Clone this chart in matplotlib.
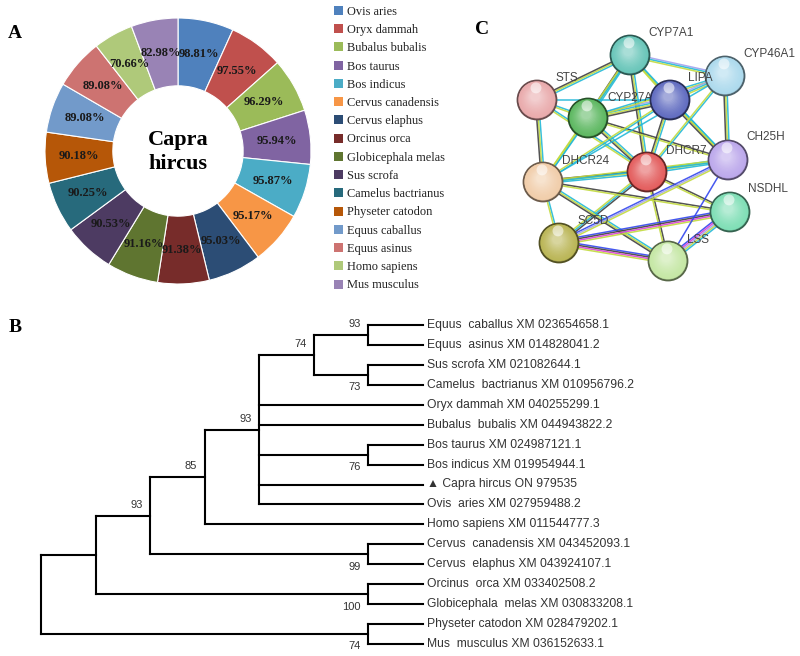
import matplotlib
matplotlib.use("Agg")
import matplotlib.pyplot as plt
from matplotlib.patches import Circle, Patch
import numpy as np

# ---- panel A: identity donut ----
species = ["Ovis aries", "Oryx dammah", "Bubalus bubalis", "Bos taurus", "Bos indicus",
           "Cervus canadensis", "Cervus elaphus", "Orcinus orca", "Globicephala melas",
           "Sus scrofa", "Camelus bactrianus", "Physeter catodon", "Equus caballus",
           "Equus asinus", "Homo sapiens", "Mus musculus"]
identity = [98.81, 97.55, 96.29, 95.94, 95.87, 95.17, 95.03, 91.38, 91.16,
            90.53, 90.25, 90.18, 89.08, 89.08, 70.66, 82.98]
pie_colors = ["#4F81BD", "#C0504D", "#9BBB59", "#8064A2", "#4BACC6", "#F79646",
              "#2C4D75", "#772C2A", "#5F7530", "#4D3B62", "#276A7C", "#B65708",
              "#729ACA", "#CD7371", "#AFC97A", "#9983B5"]

# ---- panel B: tree (bootstrap, children) ----
tree = (None, [
    (None, [
        (93, [
            (85, [
                (93, [
                    (74, [
                        (93, ["Equus  caballus XM 023654658.1", "Equus  asinus XM 014828041.2"]),
                        (73, ["Sus scrofa XM 021082644.1", "Camelus  bactrianus XM 010956796.2"]),
                    ]),
                    "Oryx dammah XM 040255299.1",
                    "Bubalus  bubalis XM 044943822.2",
                    (76, ["Bos taurus XM 024987121.1", "Bos indicus XM 019954944.1"]),
                    "\u25B2 Capra hircus ON 979535",
                    "Ovis  aries XM 027959488.2",
                ]),
                "Homo sapiens XM 011544777.3",
            ]),
            (99, ["Cervus  canadensis XM 043452093.1", "Cervus  elaphus XM 043924107.1"]),
        ]),
        (100, ["Orcinus  orca XM 033402508.2", "Globicephala  melas XM 030833208.1"]),
    ]),
    (74, ["Physeter catodon XM 028479202.1", "Mus  musculus XM 036152633.1"]),
])

# ---- panel C: STRING network ----
genes = ["CYP7A1", "CYP46A1", "STS", "CYP27A1", "LIPA", "DHCR7", "CH25H",
         "DHCR24", "NSDHL", "SC5D", "LSS"]
gene_colors = ["#62C3B6", "#A9D8EC", "#E8A6A8", "#56B55A", "#5A66BE", "#E25656",
               "#B9A4EA", "#F0CBA6", "#79DDB2", "#B7B24E", "#C2E6A0"]
edges = [
    ("CYP7A1", "STS", "cyk"), ("CYP7A1", "CYP27A1", "cyk"), ("CYP7A1", "LIPA", "cy"),
    ("CYP7A1", "CYP46A1", "hcy"), ("CYP7A1", "DHCR7", "cyk"), ("CYP7A1", "DHCR24", "cy"),
    ("CYP7A1", "CH25H", "cy"), ("STS", "CYP27A1", "cy"), ("STS", "LIPA", "c"),
    ("STS", "DHCR24", "cyk"), ("STS", "DHCR7", "cy"), ("CYP27A1", "LIPA", "hcyk"),
    ("CYP27A1", "CYP46A1", "cy"), ("CYP27A1", "DHCR7", "cyk"), ("CYP27A1", "DHCR24", "cy"),
    ("CYP27A1", "CH25H", "ky"), ("LIPA", "CYP46A1", "hcy"), ("LIPA", "DHCR7", "cyk"),
    ("LIPA", "CH25H", "cyk"), ("LIPA", "DHCR24", "cy"), ("CYP46A1", "CH25H", "cyk"),
    ("CYP46A1", "DHCR7", "cy"), ("CYP46A1", "DHCR24", "c"), ("DHCR7", "DHCR24", "cyk"),
    ("DHCR7", "CH25H", "cyc"), ("DHCR7", "NSDHL", "ky"), ("DHCR7", "LSS", "ky"),
    ("DHCR7", "SC5D", "kcy"), ("DHCR24", "SC5D", "cy"), ("DHCR24", "LSS", "cyk"),
    ("DHCR24", "NSDHL", "ky"), ("DHCR24", "CH25H", "yc"), ("SC5D", "NSDHL", "bkmy"),
    ("SC5D", "LSS", "bkmy"), ("SC5D", "CH25H", "bhy"), ("LSS", "NSDHL", "bmhyc"),
    ("LSS", "CH25H", "b"),
]
evidence_colors = {"c": "#22B8D8", "y": "#C2DA3E", "k": "#404040", "m": "#DA40D6",
                   "b": "#3246EE", "h": "#A2A2EE"}

# node layout (pixels of the original image) and label anchors
node_pos = {"CYP7A1": (630, 55), "CYP46A1": (725, 76), "STS": (537, 100),
            "CYP27A1": (588, 118), "LIPA": (670, 100), "DHCR7": (647, 172),
            "CH25H": (728, 160), "DHCR24": (543, 182), "NSDHL": (730, 212),
            "SC5D": (559, 243), "LSS": (668, 261)}
label_pos = {"CYP7A1": (648, 33), "CYP46A1": (743, 54), "STS": (555, 78),
             "CYP27A1": (607, 98), "LIPA": (688, 78), "DHCR7": (666, 151),
             "CH25H": (746, 137), "DHCR24": (562, 161), "NSDHL": (748, 189),
             "SC5D": (578, 221), "LSS": (687, 240)}

W, H = 800, 656
fig = plt.figure(figsize=(W / 100, H / 100), dpi=100)
fig.patch.set_facecolor("white")
serif = ["Liberation Serif", "DejaVu Serif"]
sans = ["Liberation Sans", "DejaVu Sans"]


def fig_rect(x0, y0, x1, y1):
    return [x0 / W, 1 - y1 / H, (x1 - x0) / W, (y1 - y0) / H]


# ---------------- A ----------------
ax = fig.add_axes(fig_rect(45, 18, 311, 284))
wedges, _ = ax.pie(identity, colors=pie_colors, startangle=90, counterclock=False,
                   radius=1, wedgeprops=dict(width=0.51, edgecolor="white", linewidth=0.8))
for w, v in zip(wedges, identity):
    a = np.deg2rad((w.theta1 + w.theta2) / 2)
    ax.text(0.745 * np.cos(a), 0.745 * np.sin(a), f"{v:.2f}%", ha="center", va="center",
            fontsize=9, fontweight="bold", family=serif, color="#1a1a1a")
ax.text(0, -0.01, "Capra\nhircus", ha="center", va="center", fontsize=16, fontweight="bold",
        family=serif, linespacing=1.25)
ax.set_xlim(-1, 1)
ax.set_ylim(-1, 1)
ax.set_aspect("equal")
ax.axis("off")

handles = [Patch(facecolor=c, edgecolor="none") for c in pie_colors]
fig.legend(handles, species, loc="upper left", bbox_to_anchor=(327 / W, 1 + 1 / H),
           frameon=False, prop={"family": serif, "size": 8.9}, labelspacing=0.505,
           handlelength=0.75, handleheight=0.75, handletextpad=0.35, borderpad=0.05,
           labelcolor="#222222")

# ---------------- C ----------------
axc = fig.add_axes(fig_rect(500, 0, 800, 300))
axc.set_xlim(500, 800)
axc.set_ylim(300, 0)
axc.set_aspect("equal")
axc.axis("off")

for a, b, ev in edges:
    p = np.array(node_pos[a], float)
    q = np.array(node_pos[b], float)
    d = q - p
    n = np.array([-d[1], d[0]]) / np.hypot(*d)
    offs = (np.arange(len(ev)) - (len(ev) - 1) / 2) * 1.6
    for o, e in zip(offs, ev):
        axc.plot([p[0] + n[0] * o, q[0] + n[0] * o], [p[1] + n[1] * o, q[1] + n[1] * o],
                 color=evidence_colors[e], lw=1.1, alpha=0.9, zorder=1,
                 solid_capstyle="butt")


def mix(c, t, k):
    c = np.array(matplotlib.colors.to_rgb(c))
    t = np.array(matplotlib.colors.to_rgb(t))
    return tuple(c + (t - c) * k)


r = 19.5
for g, col in zip(genes, gene_colors):
    x, y = node_pos[g]
    axc.add_patch(Circle((x, y), r, facecolor=mix(col, "black", 0.15),
                         edgecolor=mix(col, "black", 0.55), lw=1.3, zorder=3))
    steps = 14
    for k in range(1, steps):
        f = k / steps
        axc.add_patch(Circle((x - 2 * f, y - 4 * f), r * (1 - 0.8 * f),
                             facecolor=mix(col, "white", 0.05 + 0.45 * f ** 1.5),
                             edgecolor="none", zorder=3))
    axc.add_patch(Circle((x - 1, y - r * 0.62), r * 0.28, facecolor=(1, 1, 1, 0.55),
                         edgecolor="none", zorder=3))

for g in genes:
    lx, ly = label_pos[g]
    axc.text(lx, ly, g, ha="left", va="center", fontsize=8.5, family=sans,
             color="#444444", zorder=2 if g == "CYP27A1" else 4)

# ---------------- B ----------------
axt = fig.add_axes(fig_rect(41, 325, 423, 644))


def height(n):
    return 0 if isinstance(n, str) else 1 + max(height(c) for c in n[1])


top = height(tree)
n_leaves = [0]


def place(n):
    if isinstance(n, str):
        y = n_leaves[0]
        n_leaves[0] += 1
        axt.text(top + 0.07, y, n, ha="left", va="center", fontsize=8.7, family=sans,
                 color="#333333")
        return top, y
    pts = [place(c) for c in n[1]]
    x = top - height(n)
    y0, y1 = pts[0][1], pts[-1][1]
    axt.plot([x, x], [y0, y1], color="black", lw=1.5, clip_on=False, solid_capstyle="projecting")
    for i, (c, (cx, cy)) in enumerate(zip(n[1], pts)):
        axt.plot([x, cx], [cy, cy], color="black", lw=1.5, clip_on=False)
        if not isinstance(c, str) and c[0] is not None:
            dy = -0.55 if i == 0 else 0.62
            axt.text(cx - 0.14, cy + dy, str(c[0]), ha="right", va="center",
                     fontsize=8, family=sans, color="#333333")
    return x, (y0 + y1) / 2


place(tree)
axt.set_xlim(0, top)
axt.set_ylim(n_leaves[0] - 1, 0)
axt.axis("off")

# panel letters
for t, x, y in [("A", 15, 33), ("B", 15, 327), ("C", 482, 30)]:
    fig.text(x / W, 1 - y / H, t, ha="center", va="center", fontsize=14,
             fontweight="bold", family=serif)

fig.savefig("out.png", dpi=100)
